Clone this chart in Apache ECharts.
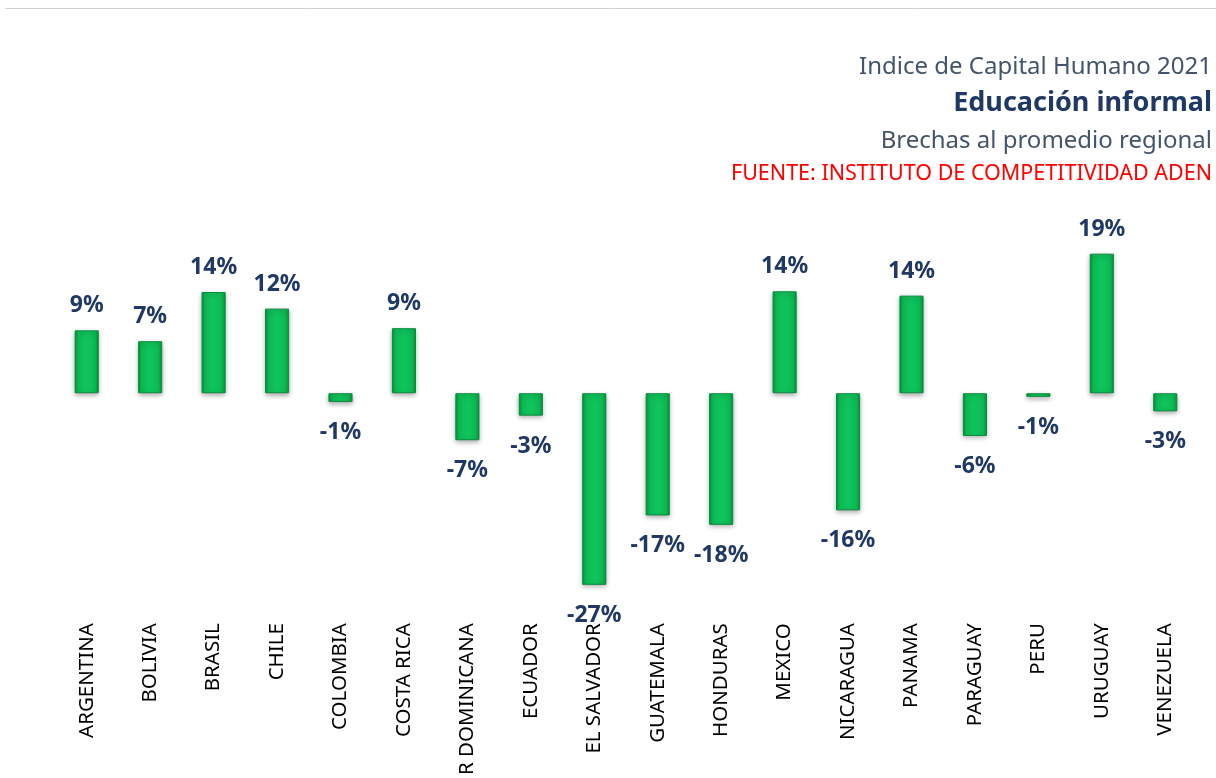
<!DOCTYPE html>
<html>
<head>
<meta charset="utf-8">
<script src="https://cdn.jsdelivr.net/npm/echarts@6/dist/echarts.min.js"></script>
<style>
html,body{margin:0;padding:0;background:#fff;}
#chart{width:1216px;height:778px;}
</style>
</head>
<body>
<div id="chart"></div>
<script>
const categories = ['ARGENTINA','BOLIVIA','BRASIL','CHILE','COLOMBIA','COSTA RICA','R DOMINICANA','ECUADOR','EL SALVADOR','GUATEMALA','HONDURAS','MEXICO','NICARAGUA','PANAMA','PARAGUAY','PERU','URUGUAY','VENEZUELA'];
const gaps = [8.7, 7.2, 14.0, 11.7, -1.2, 9.0, -6.5, -3.1, -26.5, -16.9, -18.2, 14.1, -16.2, 13.5, -5.9, -0.5, 19.3, -2.5];
const titleLines = ['Indice de Capital Humano 2021','Educación informal','Brechas al promedio regional','FUENTE: INSTITUTO DE COMPETITIVIDAD ADEN'];

const fmt = v => (v < 0 ? '-' : '') + Math.round(Math.abs(v)) + '%';
const chart = echarts.init(document.getElementById('chart'));
const barColor = {
  type: 'linear', x: 0, y: 0, x2: 1, y2: 0,
  colorStops: [
    {offset: 0, color: '#00953f'},
    {offset: 0.15, color: '#0cbb55'},
    {offset: 0.5, color: '#10c45c'},
    {offset: 0.85, color: '#0cbb55'},
    {offset: 1, color: '#00953f'}
  ]
};
chart.setOption({
  animation: false,
  graphic: [
    {type: 'line', shape: {x1: 5, y1: 8.5, x2: 1216, y2: 8.5}, style: {stroke: '#d0d0d0', lineWidth: 1}},
    {type: 'text', right: 4, top: 55, style: {text: titleLines[0], font: '24px "Noto Sans"', fill: '#44546a', textAlign: 'right'}},
    {type: 'text', right: 4, top: 90, style: {text: titleLines[1], font: 'bold 27px "Noto Sans"', fill: '#1f3864', textAlign: 'right'}},
    {type: 'text', right: 4, top: 129, style: {text: titleLines[2], font: '24px "Noto Sans"', fill: '#44546a', textAlign: 'right'}},
    {type: 'text', right: 4, top: 163, style: {text: titleLines[3], font: '21.5px "Noto Sans"', fill: '#ff0000', textAlign: 'right'}}
  ],
  grid: {left: 55, right: 19, top: 212.5, height: 398.75},
  xAxis: {
    type: 'category', data: categories,
    axisLine: {show: false, onZero: false}, axisTick: {show: false},
    axisLabel: {rotate: 90, margin: 13, fontFamily: 'Noto Sans', fontSize: 20.5, color: '#000', interval: 0}
  },
  yAxis: {type: 'value', min: -30, max: 25, show: false, splitLine: {show: false}},
  series: [{
    type: 'bar', barWidth: '38%',
    data: gaps.map(v => ({
      value: v,
      label: {show: true, position: v >= 0 ? 'top' : 'bottom', distance: v >= 0 ? 13 : 19}
    })),
    itemStyle: {color: barColor, borderColor: '#0a8a3e', borderWidth: 1, shadowColor: 'rgba(0,0,0,0.35)', shadowBlur: 5, shadowOffsetY: 2},
    label: {formatter: p => fmt(p.value), fontFamily: 'Noto Sans', fontWeight: 'bold', fontSize: 23, color: '#1f3864'}
  }]
});
</script>
</body>
</html>
